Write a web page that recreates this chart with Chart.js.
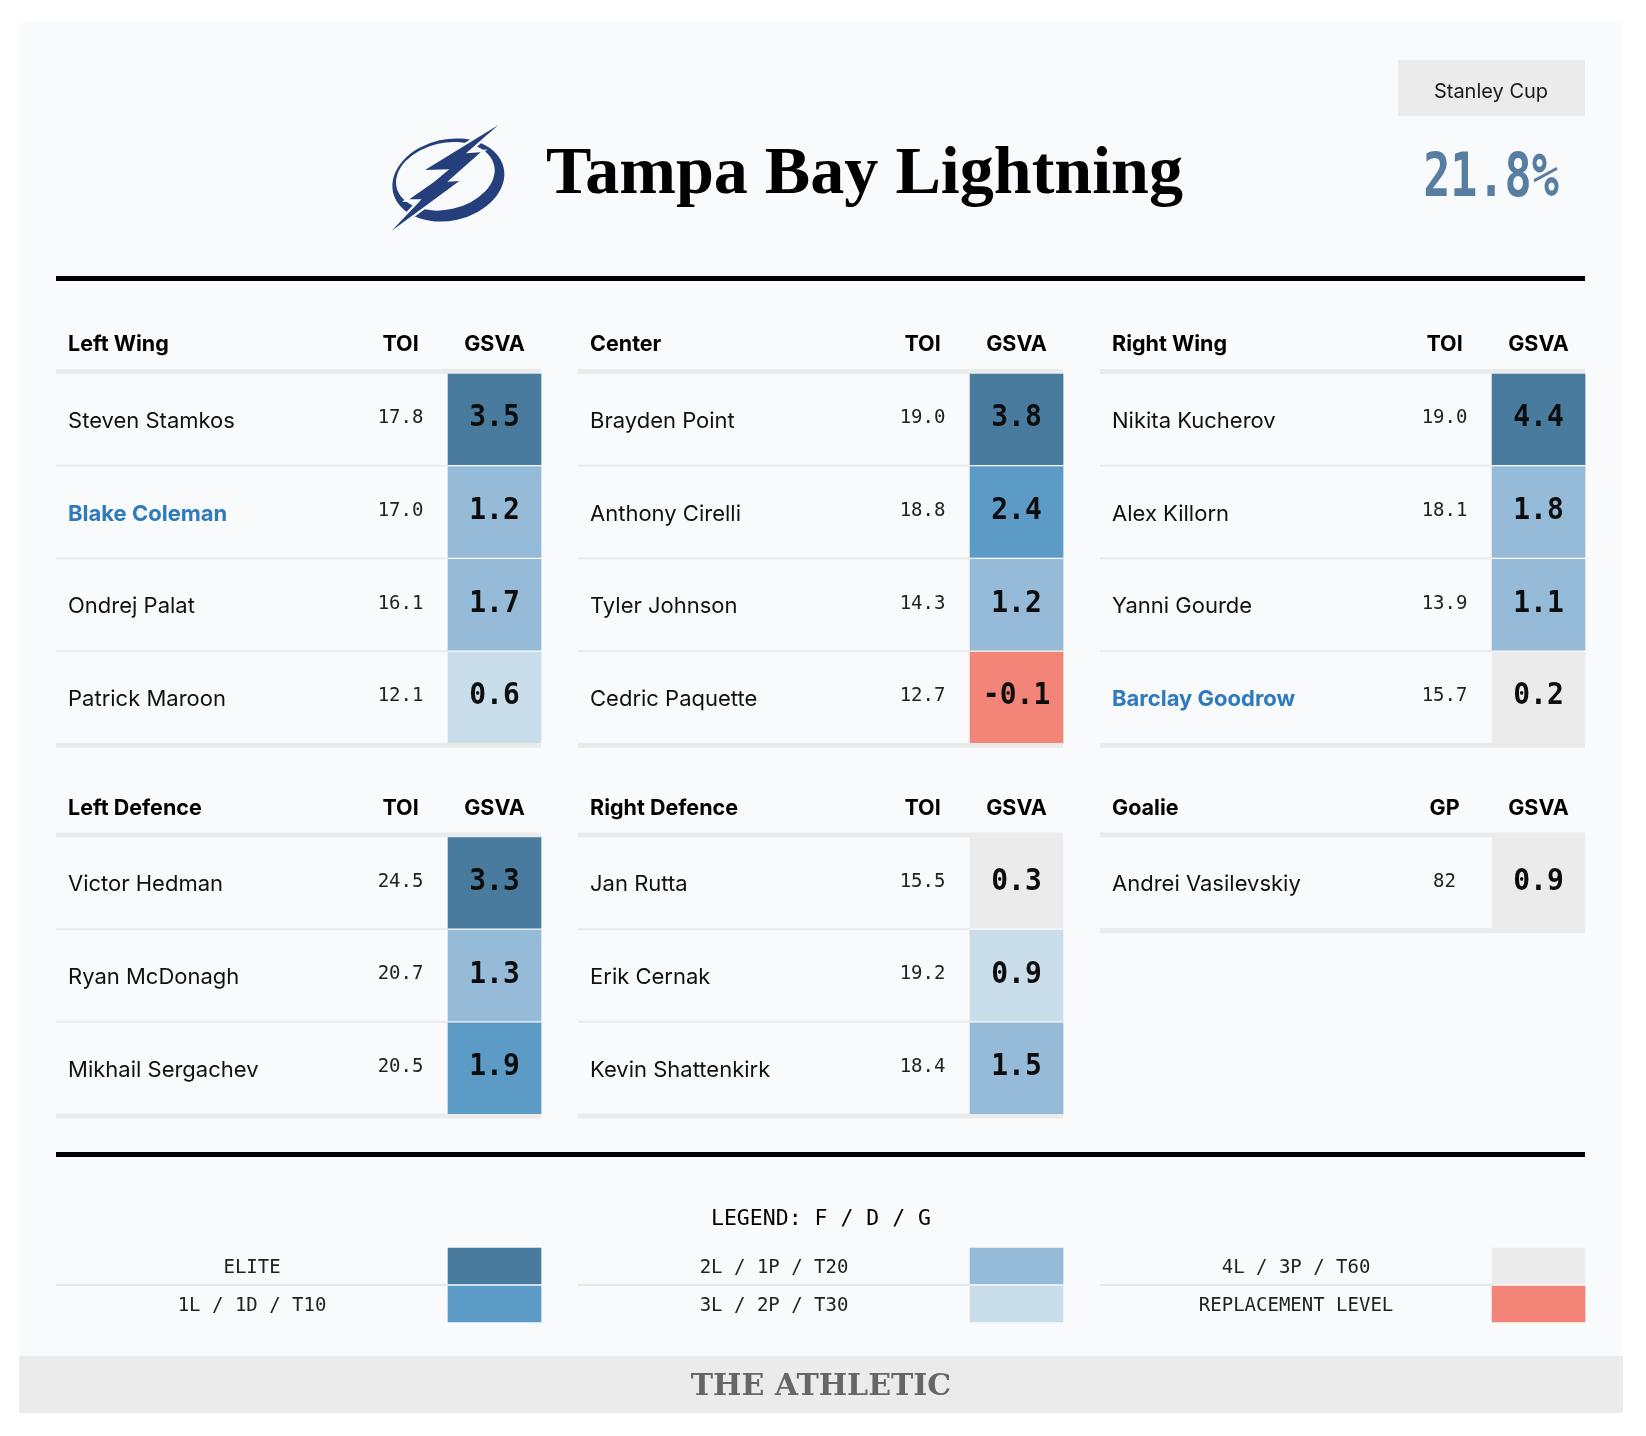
<!DOCTYPE html>
<html>
<head>
<meta charset="utf-8">
<title>Tampa Bay Lightning</title>
<script src="https://cdn.jsdelivr.net/npm/chart.js@4.4.1/dist/chart.umd.min.js"></script>
<style>
  html, body { margin: 0; padding: 0; background: #fff; }
  canvas { display: block; }
</style>
</head>
<body>
<canvas id="lineup" width="1646" height="1436"></canvas>
<script>
const teamName = 'Tampa Bay Lightning';
const cupLabel = 'Stanley Cup';
const cupOdds = 21.8;

const positions = ['Left Wing', 'Center', 'Right Wing', 'Left Defence', 'Right Defence', 'Goalie'];
const statLabels = ['TOI', 'TOI', 'TOI', 'TOI', 'TOI', 'GP'];

const lwPlayers = ['Steven Stamkos', 'Blake Coleman', 'Ondrej Palat', 'Patrick Maroon'];
const lwToi = [17.8, 17.0, 16.1, 12.1];
const lwGsva = [3.5, 1.2, 1.7, 0.6];
const lwTier = [0, 2, 2, 3];

const cPlayers = ['Brayden Point', 'Anthony Cirelli', 'Tyler Johnson', 'Cedric Paquette'];
const cToi = [19.0, 18.8, 14.3, 12.7];
const cGsva = [3.8, 2.4, 1.2, -0.1];
const cTier = [0, 1, 2, 5];

const rwPlayers = ['Nikita Kucherov', 'Alex Killorn', 'Yanni Gourde', 'Barclay Goodrow'];
const rwToi = [19.0, 18.1, 13.9, 15.7];
const rwGsva = [4.4, 1.8, 1.1, 0.2];
const rwTier = [0, 2, 2, 4];

const ldPlayers = ['Victor Hedman', 'Ryan McDonagh', 'Mikhail Sergachev'];
const ldToi = [24.5, 20.7, 20.5];
const ldGsva = [3.3, 1.3, 1.9];
const ldTier = [0, 2, 1];

const rdPlayers = ['Jan Rutta', 'Erik Cernak', 'Kevin Shattenkirk'];
const rdToi = [15.5, 19.2, 18.4];
const rdGsva = [0.3, 0.9, 1.5];
const rdTier = [4, 3, 2];

const gPlayers = ['Andrei Vasilevskiy'];
const gGp = [82];
const gGsva = [0.9];
const gTier = [4];

const newPlayers = ['Blake Coleman', 'Barclay Goodrow'];

const tierLabels = ['ELITE', '1L / 1D / T10', '2L / 1P / T20', '3L / 2P / T30', '4L / 3P / T60', 'REPLACEMENT LEVEL'];
const tierColors = ['#497b9e', '#5d9bc7', '#96bbd8', '#c9ddeb', '#ebebeb', '#f28478'];

const players = [lwPlayers, cPlayers, rwPlayers, ldPlayers, rdPlayers, gPlayers];
const stats = [lwToi, cToi, rwToi, ldToi, rdToi, gGp];
const gsva = [lwGsva, cGsva, rwGsva, ldGsva, rdGsva, gGsva];
const tiers = [lwTier, cTier, rwTier, ldTier, rdTier, gTier];

// layout: table column per group, first row slot per group
const groupCol = [0, 1, 2, 0, 1, 2];
const groupStart = [0, 0, 0, 5, 5, 5];
const CELL_FRAC = 0.978;
const LEG_TOP = 9.428, LEG_STEP = 0.41, LEG_H = 0.388;

const SANS = 'Inter, "Noto Sans", sans-serif';
const MONO = '"DejaVu Sans Mono", monospace';
const BLUE_NAME = '#2f79bd';
const GREY = '#ebebeb';

const cells = [], cellColors = [];
positions.forEach((p, g) => {
  players[g].forEach((name, i) => {
    const s = groupStart[g] + i;
    cells.push({ x: groupCol[g], y: [s, s + CELL_FRAC] });
    cellColors.push(tierColors[tiers[g][i]]);
  });
});

const legendCells = tierLabels.map((l, t) => {
  const top = LEG_TOP + (t % 2) * LEG_STEP;
  return { x: Math.floor(t / 2), y: [top, top + LEG_H] };
});

function text(ctx, str, x, y, font, color, align) {
  ctx.font = font;
  ctx.fillStyle = color;
  ctx.textAlign = align || 'left';
  ctx.textBaseline = 'middle';
  ctx.fillText(str, x, y);
}

function drawLogo(ctx) {
  ctx.save();
  ctx.translate(360, 100);
  ctx.scale(1 / 3, 1 / 3);
  ctx.fillStyle = '#243f7b';
  ctx.beginPath();
  ctx.ellipse(265, 240, 170, 122, -0.22, 0, Math.PI * 2);
  ctx.ellipse(256, 229, 150, 100, -0.22, 0, Math.PI * 2);
  ctx.fill('evenodd');
  const bolt = [[415, 75], [318, 160], [362, 157], [262, 245], [298, 243], [95, 392],
    [185, 298], [148, 298], [222, 246], [268, 208], [195, 210]];
  ctx.beginPath();
  bolt.forEach((p, i) => i ? ctx.lineTo(p[0], p[1]) : ctx.moveTo(p[0], p[1]));
  ctx.closePath();
  ctx.strokeStyle = '#f9fafc';
  ctx.lineWidth = 14;
  ctx.lineJoin = 'miter';
  ctx.stroke();
  ctx.fill();
  ctx.restore();
}

const tablePlugin = {
  id: 'tablePlugin',
  beforeDraw(chart) {
    const ctx = chart.ctx;
    ctx.save();
    ctx.fillStyle = '#ffffff';
    ctx.fillRect(0, 0, chart.width, chart.height);
    ctx.fillStyle = '#f9fafc';
    ctx.fillRect(19, 23, 1604, 1390);
    ctx.fillStyle = GREY;
    ctx.fillRect(19, 1356, 1604, 57);
    ctx.restore();
  },
  beforeDatasetsDraw(chart) {
    const ctx = chart.ctx, x = chart.scales.x, y = chart.scales.y;
    ctx.save();
    ctx.fillStyle = '#000';
    ctx.fillRect(56, 276, 1529, 5);
    ctx.fillRect(56, 1152, 1529, 5);
    positions.forEach((p, g) => {
      const cx = x.getPixelForValue(groupCol[g]);
      const left = cx - 438.5, right = cx + 46.5, cellLeft = cx - 46.5;
      const s = groupStart[g], n = players[g].length;
      const top = y.getPixelForValue(s);
      ctx.fillStyle = GREY;
      ctx.fillRect(left, top - 5, right - left, 5);
      for (let i = 0; i < n - 1; i++) {
        const a = y.getPixelForValue(s + i + CELL_FRAC), b = y.getPixelForValue(s + i + 1);
        ctx.fillRect(left, a, cellLeft - left, b - a);
      }
      const bot = y.getPixelForValue(s + n - 1 + CELL_FRAC);
      ctx.fillRect(left, bot, right - left, 5);
    });
    for (let c = 0; c < 3; c++) {
      const cx = x.getPixelForValue(c);
      const a = y.getPixelForValue(LEG_TOP + LEG_H), b = y.getPixelForValue(LEG_TOP + LEG_STEP);
      ctx.fillStyle = '#e6e8ec';
      ctx.fillRect(cx - 438.5, a, 392, b - a);
    }
    ctx.restore();
  },
  afterDatasetsDraw(chart) {
    const ctx = chart.ctx, x = chart.scales.x, y = chart.scales.y;
    ctx.save();

    // header
    drawLogo(ctx);
    ctx.font = 'bold 67px "Liberation Serif", serif';
    const tw = ctx.measureText(teamName).width;
    ctx.save();
    ctx.translate(546, 176);
    ctx.scale(637 / tw, 1);
    text(ctx, teamName, 0, 0, 'bold 67px "Liberation Serif", serif', '#000', 'left');
    ctx.restore();

    ctx.fillStyle = GREY;
    ctx.fillRect(1398, 60, 187, 56);
    text(ctx, cupLabel, 1491, 92, '20px ' + SANS, '#1a1a1a', 'center');
    ctx.save();
    ctx.translate(1491, 180);
    ctx.scale(0.98, 1.3);
    text(ctx, cupOdds.toFixed(1) + '%', 0, 0, 'bold 46px ' + MONO, '#577da1', 'center');
    ctx.restore();

    // tables
    positions.forEach((p, g) => {
      const cx = x.getPixelForValue(groupCol[g]);
      const left = cx - 438.5;
      const s = groupStart[g];
      const hy = y.getPixelForValue(s) - 29;
      text(ctx, p, left + 12, hy, 'bold 21.5px ' + SANS, '#000', 'left');
      text(ctx, statLabels[g], cx - 94, hy, 'bold 21.5px ' + SANS, '#000', 'center');
      text(ctx, 'GSVA', cx, hy, 'bold 21.5px ' + SANS, '#000', 'center');
      players[g].forEach((name, i) => {
        const my = y.getPixelForValue(s + i + CELL_FRAC / 2);
        const isNew = newPlayers.includes(name);
        text(ctx, name, left + 12, my + 2, (isNew ? 'bold ' : '') + '22px ' + SANS, isNew ? BLUE_NAME : '#111', 'left');
        const st = statLabels[g] === 'GP' ? String(stats[g][i]) : stats[g][i].toFixed(1);
        text(ctx, st, cx - 94, my - 1, '19px ' + MONO, '#222', 'center');
        ctx.save();
        ctx.translate(cx, my - 1);
        ctx.scale(1, 1.1);
        text(ctx, gsva[g][i].toFixed(1), 0, 0, 'bold 28px ' + MONO, '#0d0d0d', 'center');
        ctx.restore();
      });
    });

    // legend
    text(ctx, 'LEGEND: F / D / G', 821, 1219, '21.5px ' + MONO, '#000', 'center');
    tierLabels.forEach((l, t) => {
      const cx = x.getPixelForValue(Math.floor(t / 2));
      const top = LEG_TOP + (t % 2) * LEG_STEP;
      const my = y.getPixelForValue(top + LEG_H / 2);
      text(ctx, l, cx - 242.5, my + 2, '19px ' + MONO, '#222', 'center');
    });

    // footer
    ctx.save();
    ctx.translate(821, 1387);
    ctx.scale(1.0, 1.0);
    text(ctx, 'THE ATHLETIC', 0, 0, 'bold 30px "DejaVu Serif", serif', '#666', 'center');
    ctx.restore();
    ctx.restore();
  }
};

new Chart(document.getElementById('lineup'), {
  type: 'bar',
  data: {
    datasets: [{
      label: 'GSVA',
      data: cells,
      backgroundColor: cellColors,
      borderWidth: 0,
      borderSkipped: false,
      barThickness: 93,
      grouped: false,
      clip: false
    }, {
      label: 'Legend',
      data: legendCells,
      backgroundColor: tierColors,
      borderWidth: 0,
      borderSkipped: false,
      barThickness: 93,
      grouped: false,
      clip: false
    }]
  },
  options: {
    responsive: false,
    animation: false,
    events: [],
    layout: { padding: { left: 56, right: 61, top: 374, bottom: 88.65 } },
    scales: {
      x: { type: 'linear', display: false, offset: false, min: -0.8401, max: 2.089 },
      y: { type: 'linear', display: false, reverse: true, min: 0, max: 10.5 }
    },
    plugins: {
      legend: { display: false },
      tooltip: { enabled: false }
    }
  },
  plugins: [tablePlugin]
});
</script>
</body>
</html>
